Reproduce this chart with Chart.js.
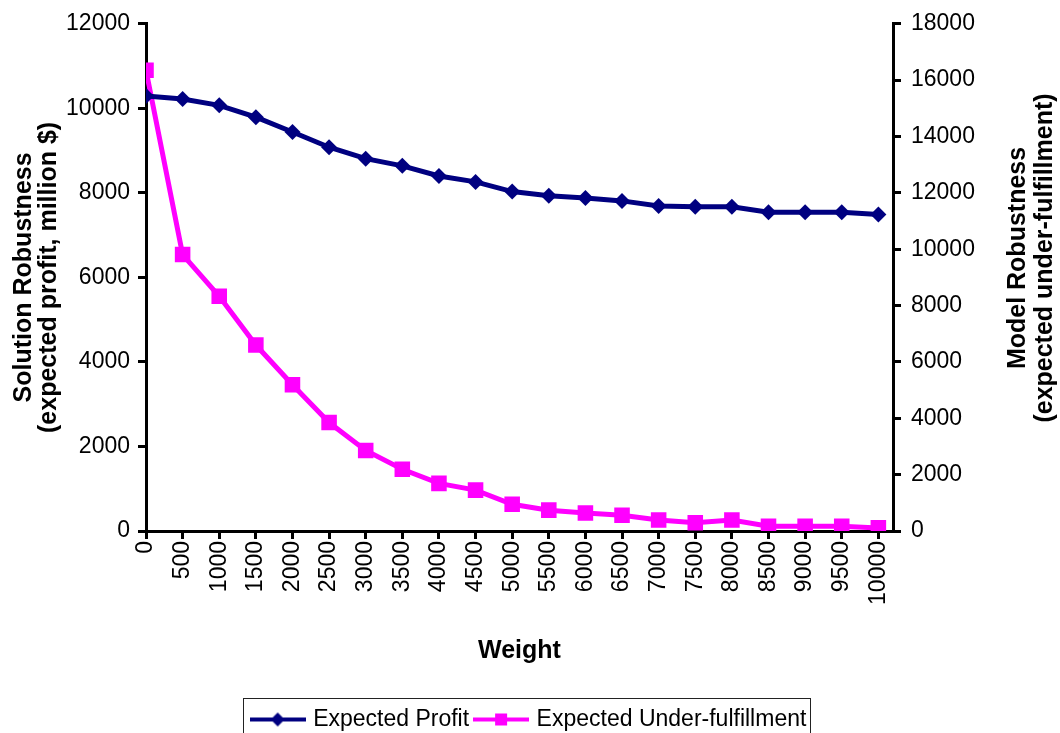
<!DOCTYPE html>
<html>
<head>
<meta charset="utf-8">
<script src="https://cdn.jsdelivr.net/npm/chart.js@4.4.1/dist/chart.umd.min.js"></script>
<style>
  html, body { margin: 0; padding: 0; background: #fff; }
  #wrap { width: 1060px; height: 733px; position: relative; }
</style>
</head>
<body>
<div id="wrap"><canvas id="robustChart"></canvas></div>
<script>
const navy = "#000080";
const magenta = "#FF00FF";
const fontFamily = "'Liberation Sans', Arial, sans-serif";

const weights = [0, 500, 1000, 1500, 2000, 2500, 3000, 3500, 4000, 4500, 5000,
  5500, 6000, 6500, 7000, 7500, 8000, 8500, 9000, 9500, 10000];
const expectedProfit = [10290, 10220, 10070, 9790, 9440, 9080, 8810, 8640, 8400, 8260, 8030,
  7930, 7880, 7810, 7690, 7670, 7670, 7540, 7540, 7540, 7490];
const underFulfillment = [16350, 9810, 8330, 6600, 5190, 3850, 2860, 2190, 1690, 1450, 950,
  740, 640, 560, 390, 290, 390, 170, 170, 170, 110];
const profitTicks = [0, 2000, 4000, 6000, 8000, 10000, 12000];
const fulfilTicks = [0, 2000, 4000, 6000, 8000, 10000, 12000, 14000, 16000, 18000];

// small line+marker swatch for legend
function swatch(color, shape) {
  const c = document.createElement("canvas");
  c.width = 56;
  c.height = 20;
  const g = c.getContext("2d");
  g.strokeStyle = color;
  g.lineWidth = 4;
  g.beginPath();
  g.moveTo(0, 10);
  g.lineTo(56, 10);
  g.stroke();
  g.fillStyle = color;
  if (shape === "diamond") {
    g.beginPath();
    g.moveTo(28, 3);
    g.lineTo(35, 10);
    g.lineTo(28, 17);
    g.lineTo(21, 10);
    g.closePath();
    g.fill();
  } else {
    g.fillRect(22, 4, 12, 12);
  }
  return c;
}
const swatches = [swatch(navy, "diamond"), swatch(magenta, "square")];

const legendBorder = {
  id: "legendBorder",
  afterDraw(chart) {
    const boxes = chart.legend.legendHitBoxes;
    if (!boxes || !boxes.length) return;
    const first = boxes[0];
    const last = boxes[boxes.length - 1];
    const ctx = chart.ctx;
    ctx.save();
    ctx.strokeStyle = "#222";
    ctx.lineWidth = 1;
    ctx.strokeRect(Math.round(first.left) - 10.5, Math.round(first.top) - 9.5,
      Math.round(last.left + last.width - first.left) + 14, 60);
    ctx.restore();
  }
};

const rightTitle = {
  id: "rightTitle",
  afterDraw(chart) {
    const ctx = chart.ctx;
    ctx.save();
    ctx.fillStyle = "#000";
    ctx.font = "bold 25px " + fontFamily;
    ctx.textAlign = "center";
    ctx.textBaseline = "middle";
    [["Model Robustness", 1018], ["(expected under-fulfillment)", 1045]].forEach(([t, x]) => {
      ctx.save();
      ctx.translate(x, 258);
      ctx.rotate(-Math.PI / 2);
      ctx.fillText(t, 0, 0);
      ctx.restore();
    });
    ctx.restore();
  }
};

const plain = (v) => String(v);

const ctx = document.getElementById("robustChart");

new Chart(ctx, {
  type: "line",
  data: {
    datasets: [
      {
        label: "Expected Profit",
        data: weights.map((w, i) => ({ x: w, y: expectedProfit[i] })),
        borderColor: navy,
        backgroundColor: navy,
        borderWidth: 5,
        pointStyle: "rectRot",
        pointRadius: 8,
        pointBorderWidth: 0,
        yAxisID: "y",
      },
      {
        label: "Expected Under-fulfillment",
        data: weights.map((w, i) => ({ x: w, y: underFulfillment[i] })),
        borderColor: magenta,
        backgroundColor: magenta,
        borderWidth: 5,
        pointStyle: "rect",
        pointRadius: 11,
        pointBorderWidth: 0,
        yAxisID: "y2",
      },
    ],
  },
  options: {
    responsive: true,
    maintainAspectRatio: false,
    animation: false,
    layout: { padding: { top: 12, bottom: -8, left: 0, right: 0 } },
    plugins: {
      title: { display: false },
      tooltip: { enabled: false },
      legend: {
        position: "bottom",
        labels: {
          color: "#000",
          font: { family: fontFamily, size: 23 },
          usePointStyle: true,
          pointStyleWidth: 48,
          padding: 8,
          generateLabels: (chart) =>
            Chart.defaults.plugins.legend.labels.generateLabels(chart).map((l, i) => {
              l.pointStyle = swatches[i];
              return l;
            }),
        },
      },
    },
    scales: {
      x: {
        type: "linear",
        min: 0,
        max: 10200,
        afterBuildTicks: (s) => { s.ticks = weights.map((v) => ({ value: v })); },
        afterFit: (s) => { s.height = 169; },
        ticks: {
          autoSkip: false,
          minRotation: 90,
          maxRotation: 90,
          color: "#000",
          font: { family: fontFamily, size: 23 },
          padding: 2,
          callback: plain,
        },
        grid: { drawOnChartArea: false, color: "#000", lineWidth: 3, tickLength: 8 },
        border: { color: "#000", width: 3 },
        title: {
          display: true,
          text: "Weight",
          color: "#000",
          font: { family: fontFamily, size: 25, weight: "bold" },
          padding: { top: 4, bottom: 34 },
        },
      },
      y: {
        position: "left",
        min: 0,
        max: 12000,
        afterBuildTicks: (s) => { s.ticks = profitTicks.map((v) => ({ value: v })); },
        afterFit: (s) => { s.width = 146; },
        ticks: { color: "#000", font: { family: fontFamily, size: 23 }, padding: 8, callback: plain },
        grid: { drawOnChartArea: false, color: "#000", lineWidth: 3, tickLength: 8 },
        border: { color: "#000", width: 3 },
        title: {
          display: true,
          text: ["Solution Robustness", "(expected profit, million $)"],
          color: "#000",
          font: { family: fontFamily, size: 25, weight: "bold", lineHeight: 1.0 },
          padding: { top: 12, bottom: 0 },
        },
      },
      y2: {
        position: "right",
        min: 0,
        max: 18000,
        afterBuildTicks: (s) => { s.ticks = fulfilTicks.map((v) => ({ value: v })); },
        afterFit: (s) => { s.width = 167; },
        ticks: { color: "#000", font: { family: fontFamily, size: 23 }, padding: 10, callback: plain },
        grid: { drawOnChartArea: false, color: "#000", lineWidth: 3, tickLength: 8 },
        border: { color: "#000", width: 3 },
      },
    },
  },
  plugins: [legendBorder, rightTitle],
});
</script>
</body>
</html>
